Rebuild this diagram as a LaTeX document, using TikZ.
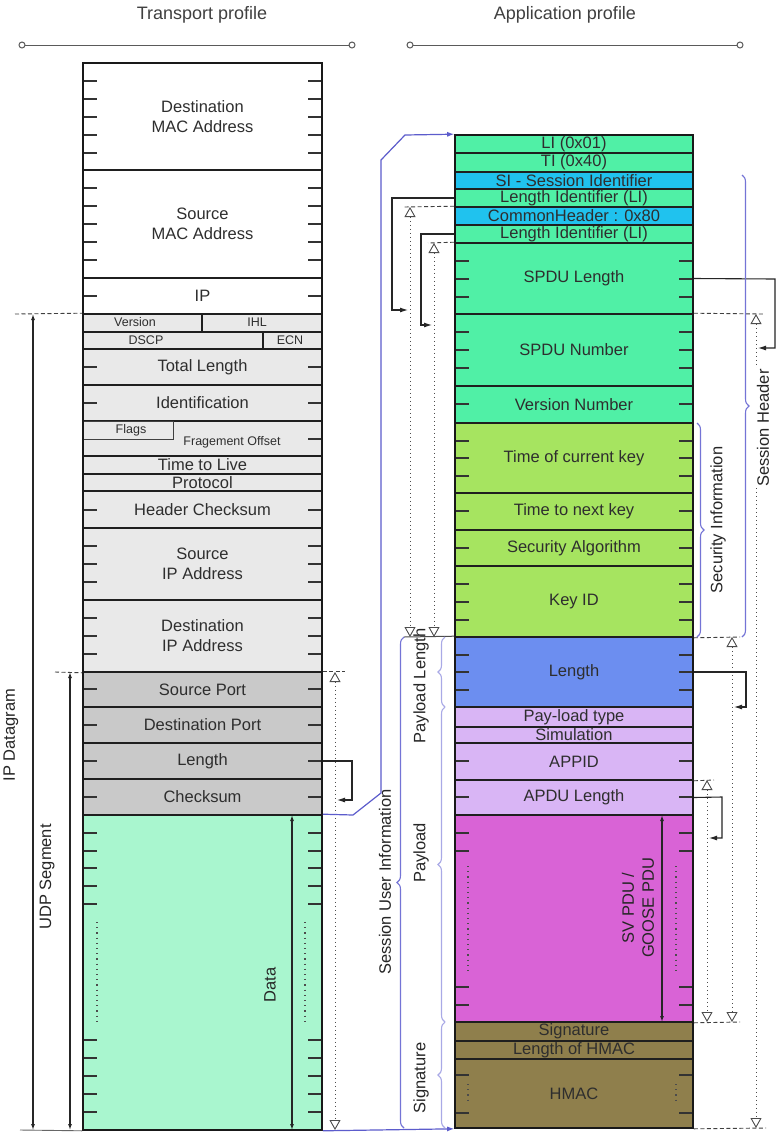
\documentclass[tikz,border=0pt]{standalone}
\usepackage{fontspec}
\setmainfont{Liberation Sans}
\usetikzlibrary{arrows.meta,decorations.pathreplacing}

\definecolor{hdrgray}{HTML}{E9E9E9}
\definecolor{udpgray}{HTML}{C9C9C9}
\definecolor{datagreen}{HTML}{A9F6CF}
\definecolor{sesgreen}{HTML}{50F0A6}
\definecolor{sesblue}{HTML}{20C2EE}
\definecolor{secgreen}{HTML}{A6E460}
\definecolor{lenblue}{HTML}{6C8EF0}
\definecolor{lavender}{HTML}{D9B5F5}
\definecolor{pdumagenta}{HTML}{D963D6}
\definecolor{sigolive}{HTML}{8F7F4C}
\definecolor{bracecol}{HTML}{7474D6}
\definecolor{lightbrace}{HTML}{A9A9E6}
\definecolor{linkblue}{HTML}{5C5CCC}
\definecolor{rulegray}{HTML}{5A5A5A}

% one field of the transport (left) or application (right) stack
\newcommand\lrow[5]{\node[lfield,fill=#4,minimum height={#3-#2}] (#1) at (202.5,{(#2+#3)/2}) {#5};}
\newcommand\rrow[5]{\node[rfield,fill=#4,minimum height={#3-#2}] (#1) at (574,{(#2+#3)/2}) {#5};}
% byte marks on both edges of a stack
\newcommand\lticks[1]{\foreach \tk in {#1}{\draw[tickmark] (83,\tk) -- ++(14,0) (322,\tk) -- ++(-14,0);}}
\newcommand\rticks[1]{\foreach \tk in {#1}{\draw[tickmark] (455,\tk) -- ++(14,0) (693,\tk) -- ++(-14,0);}}

\begin{document}
\begin{tikzpicture}[x=1pt,y=-1pt,
  font=\fontsize{16.5}{20}\selectfont,
  fieldbox/.style={draw=black!88,line width=1.6pt,inner sep=0pt,align=center,text=black!82},
  lfield/.style={fieldbox,minimum width=239pt},
  rfield/.style={fieldbox,minimum width=238pt},
  tickmark/.style={line width=1.3pt,black!80},
  dotcol/.style={line width=1.1pt,black!70,dash pattern=on 1.2pt off 4pt},
  smalltxt/.style={font=\fontsize{12.5}{14}\selectfont,text=black!82,inner sep=0pt},
  vlabel/.style={rotate=90,text=black!85,inner sep=0pt},
  dimline/.style={line width=1.1pt,black!85,{Latex[length=6pt,width=4pt]}-{Latex[length=6pt,width=4pt]}},
  levelline/.style={line width=0.9pt,black!75,dash pattern=on 4pt off 2.5pt},
  spanline/.style={line width=1pt,black!70,dash pattern=on 1.2pt off 2.8pt,
    {Triangle[open,length=10pt,width=11pt,line width=0.9pt]}-{Triangle[open,length=10pt,width=11pt,line width=0.9pt]}},
  ptrline/.style={line width=1.1pt,black!85,-{Latex[length=8pt,width=5pt]}},
  linkline/.style={line width=1.2pt,linkblue,-{Latex[length=7pt,width=5pt]}},
  brc/.style={line width=1.1pt,bracecol,decorate,decoration={brace,amplitude=7pt}},
  lbrc/.style={brc,draw=lightbrace},
  titleline/.style={line width=1pt,rulegray}]

\useasboundingbox (0,0) rectangle (776,1133);
\fill[white] (0,0) rectangle (776,1133);

% headings
\node[text=black!75,font=\fontsize{18}{20}\selectfont] (ttrans) at (202,15) {Transport profile};
\node[text=black!75,font=\fontsize{18}{20}\selectfont] (tapp) at (565,15) {Application profile};
\draw[titleline] (22,45) -- (352,45) (410,45) -- (740,45);
\draw[titleline,fill=white] (22,45) circle[radius=3pt] (352,45) circle[radius=3pt]
  (410,45) circle[radius=3pt] (740,45) circle[radius=3pt];

% ---------------- transport profile ----------------
\lrow{dmac}{63}{170}{white}{Destination\\MAC Address}
\lrow{smac}{170}{278}{white}{Source\\MAC Address}
\lrow{ipfld}{278}{314}{white}{IP}
\node[fieldbox,fill=hdrgray,minimum width=119pt,minimum height=18pt] (verbox) at (142.5,323) {};
\node[fieldbox,fill=hdrgray,minimum width=120pt,minimum height=18pt] (ihlbox) at (262,323) {};
\node[smalltxt] (vertxt) at (135,322) {Version};
\node[smalltxt] (ihltxt) at (257,322) {IHL};
\node[fieldbox,fill=hdrgray,minimum width=180pt,minimum height=17pt] (dscpbox) at (173,340.5) {};
\node[fieldbox,fill=hdrgray,minimum width=59pt,minimum height=17pt] (ecnbox) at (292.5,340.5) {};
\node[smalltxt] (dscptxt) at (146,340) {DSCP};
\node[smalltxt] (ecntxt) at (290,340) {ECN};
\lrow{totlen}{349}{385}{hdrgray}{Total Length}
\lrow{ident}{385}{421}{hdrgray}{Identification}
\lrow{frag}{421}{456}{hdrgray}{}
\node[draw=black!75,line width=1pt,fill=hdrgray,minimum width=90pt,minimum height=18pt,inner sep=0pt] (flagbox) at (128,430) {};
\node[smalltxt] (flagtxt) at (131,430) {Flags};
\node[smalltxt] (fragtxt) at (232,442) {Fragement Offset};
\lrow{ttl}{456}{474}{hdrgray}{Time to Live}
\lrow{proto}{474}{491}{hdrgray}{Protocol}
\lrow{hcsum}{491}{528}{hdrgray}{Header Checksum}
\lrow{sip}{528}{600}{hdrgray}{Source\\IP Address}
\lrow{dip}{600}{672}{hdrgray}{Destination\\IP Address}
\lrow{sport}{672}{707}{udpgray}{Source Port}
\lrow{dport}{707}{743}{udpgray}{Destination Port}
\lrow{ulen}{743}{779}{udpgray}{Length}
\lrow{ucsum}{779}{815}{udpgray}{Checksum}
\lrow{data}{815}{1130}{datagreen}{}

\lticks{81,99,117,135,153}
\lticks{188,206,224,242,260}
\lticks{296,367,403,510}
\draw[tickmark] (322,439) -- ++(-14,0);
\lticks{546,564,582,618,636,654}
\lticks{689,725,761,797}
\lticks{833,851,868,886,904,1040,1058,1076,1094,1112}
\draw[dotcol] (97,922) -- (97,1022) (305,922) -- (305,1022);
\draw[dimline] (292,815) -- (292,1130);
\node[vlabel] (datatxt) at (270,985) {Data};
\draw[line width=2pt,black!90] (83,63) rectangle (322,1130);

% IP datagram / UDP segment extents
\draw[levelline] (15,314) -- (verbox.north west);
\draw[levelline] (55,672) -- (dip.south west);
\draw[line width=0.9pt,black!60] (20,1130) -- (data.south west);
\draw[dimline] (33,314) -- (33,1130);
\draw[dimline] (70,672) -- (70,1130);
\node[vlabel] (ipdg) at (11,735) {IP Datagram};
\node[vlabel] (udpseg) at (47,877) {UDP Segment};

% UDP length field and what it covers
\draw[levelline] (sport.north east) -- ++(22,0);
\draw[spanline] (335,672) -- (335,1130);
\coordinate (ulenret) at (337,800);
\draw[ptrline] (ulen.east) -- (352,761) |- (ulenret);

% ---------------- application profile ----------------
\rrow{lifld}{135}{153}{sesgreen}{LI (0x01)}
\rrow{tifld}{153}{172}{sesgreen}{TI (0x40)}
\rrow{sifld}{172}{189}{sesblue}{SI - Session Identifier}
\rrow{lione}{189}{207}{sesgreen}{Length Identifier (LI)}
\rrow{chfld}{207}{225}{sesblue}{CommonHeader : 0x80}
\rrow{litwo}{225}{243}{sesgreen}{Length Identifier (LI)}
\rrow{spdulen}{243}{314}{sesgreen}{SPDU Length}
\rrow{spdunum}{314}{386}{sesgreen}{SPDU Number}
\rrow{vernum}{386}{423}{sesgreen}{Version Number}
\rrow{tcur}{423}{493}{secgreen}{Time of current key}
\rrow{tnext}{493}{530}{secgreen}{Time to next key}
\rrow{secalg}{530}{566}{secgreen}{Security Algorithm}
\rrow{keyid}{566}{637}{secgreen}{Key ID}
\rrow{plen}{637}{707}{lenblue}{Length}
\rrow{ptype}{707}{727}{lavender}{Pay-load type}
\rrow{simfld}{727}{743}{lavender}{Simulation}
\rrow{appid}{743}{780}{lavender}{APPID}
\rrow{apdulen}{780}{815}{lavender}{APDU Length}
\rrow{apdu}{815}{1022}{pdumagenta}{}
\rrow{sigfld}{1022}{1041}{sigolive}{Signature}
\rrow{hmaclen}{1041}{1059}{sigolive}{Length of HMAC}
\rrow{hmac}{1059}{1128}{sigolive}{HMAC}

\rticks{261,279,297,332,350,368,404}
\rticks{441,458,476,511,548,584,602,620}
\rticks{655,672,690,761,797}
\rticks{833,851,987,1005,1075,1113}
\draw[dotcol] (468,866) -- (468,975) (676,866) -- (676,975)
  (468,1084) -- (468,1104) (676,1084) -- (676,1104);
\draw[dimline] (662,815) -- (662,1022);
\node[vlabel,align=center] (pdutxt) at (638,908) {SV PDU /\\GOOSE PDU};
\draw[line width=2pt,black!90] (455,135) rectangle (693,1128);

% UDP payload carried as the application profile
\draw[linkline] (data.north east) -- (353,815) -- (381,793) -- (381,160) -- (405,135) -- (lifld.north west);
\draw[linkline] (data.south east) -- (hmac.south west);

% length identifiers on the left
\coordinate (lionearr) at (408,310);
\draw[ptrline] (lione.west) -- (392,198) |- (lionearr);
\draw[levelline] (chfld.north west) -- (404,207);
\draw[spanline] (410,207) -- (410,637);
\coordinate (litwoarr) at (432,325);
\draw[ptrline] (litwo.west) -- (421,234) |- (litwoarr);
\draw[levelline] (spdulen.north west) -- (428,243);
\draw[spanline] (434,243) -- (434,637);
\draw[line width=1pt,black!70] (404,637) -- (plen.north west);

% groupings on the left
\draw[brc] (404,1128) -- (404,637);
\node[vlabel] (suinfo) at (385,882) {Session User Information};
\draw[lbrc] (445,707) -- (445,637);
\node[vlabel] (pllen) at (421,686) {Payload Length};
\draw[lbrc] (445,1022) -- (445,707);
\node[vlabel] (pload) at (421,853) {Payload};
\draw[lbrc] (445,1128) -- (445,1022);
\node[vlabel] (sigtxt) at (421,1078) {Signature};

% length fields on the right
\draw[levelline] (spdunum.north east) -- (763,314);
\draw[spanline] (756,314) -- (756,1128);
\draw[levelline] (hmac.south east) -- (766,1128);
\coordinate (spduarr) at (758,348);
\draw[ptrline] (spdulen.east) -- (775,279) |- (spduarr);

\draw[levelline] (keyid.south east) -- (740,637);
\draw[spanline] (732,637) -- (732,1022);
\draw[levelline] (apdu.south east) -- (740,1022);
\coordinate (plenarr) at (734,707);
\draw[ptrline] (plen.east) -- (746,672) |- (plenarr);

\draw[levelline] (appid.south east) -- (714,780);
\draw[spanline] (707,780) -- (707,1022);
\coordinate (apduarr) at (709,838);
\draw[ptrline] (apdulen.east) -- (722,797) |- (apduarr);

% groupings on the right
\draw[brc] (697,423) -- (697,637);
\node[vlabel] (secinfo) at (718,520) {Security Information};
\draw[brc] (742,175) -- (742,637);
\node[vlabel,fill=white,inner sep=1pt] (seshdr) at (763,428) {Session Header};

\end{tikzpicture}
\end{document}
